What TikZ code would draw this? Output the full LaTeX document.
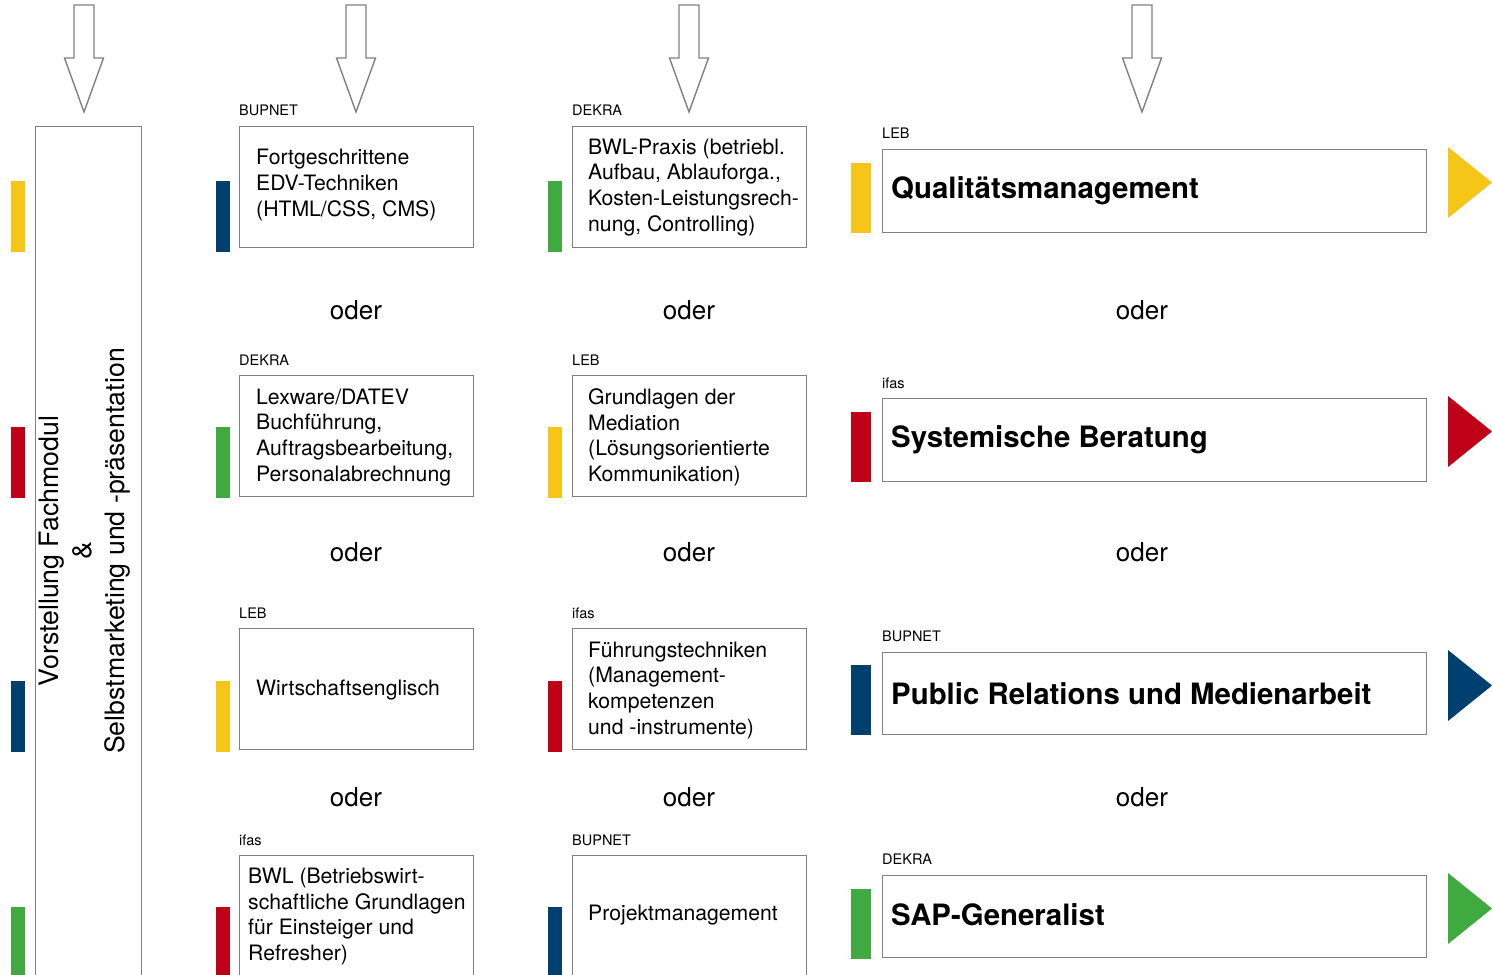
\documentclass[tikz,border=0pt]{standalone}
\usepackage{fontspec}
\setmainfont{TeX Gyre Heros}
\definecolor{cyel}{HTML}{F5C518}
\definecolor{cred}{HTML}{C00017}
\definecolor{cblu}{HTML}{00406F}
\definecolor{cgrn}{HTML}{3FAA3F}
\definecolor{cgry}{HTML}{808080}
\tikzset{
  box/.style={draw=cgry, line width=1.4pt, anchor=north west, inner sep=0pt, fill=white},
  bar/.style={draw=none, anchor=north west, inner sep=0pt, minimum width=14, minimum height=71},
  bigbar/.style={draw=none, anchor=north west, inner sep=0pt, minimum width=20, minimum height=70},
  txt/.style={anchor=west, align=left, inner sep=0pt, font=\fontsize{21.2}{25.7}\selectfont},
  bigtxt/.style={anchor=west, inner sep=0pt, font=\fontsize{29.4}{34}\selectfont\bfseries},
  lbl/.style={anchor=base west, inner sep=0pt, font=\fontsize{14.5}{17}\selectfont},
  oder/.style={inner sep=0pt, font=\fontsize{26}{30}\selectfont},
  harrow/.style={draw=cgry, line width=1.4pt, fill=white, line join=miter},
}
\begin{document}
\begin{tikzpicture}[x=1pt,y=-1pt]
\useasboundingbox (0,0) rectangle (1492,975);
\clip (0,0) rectangle (1492,975);
\fill[white] (0,0) rectangle (1492,975);

% hollow down arrows
\foreach \cx/\nm in {84/a1,356/a2,689/a3,1142/a4}{
  \draw[harrow] (\cx-10,5) -- (\cx+10,5) -- (\cx+10,58) -- (\cx+19.5,58) -- (\cx,112) -- (\cx-19.5,58) -- (\cx-10,58) -- cycle;
}

% left tall box
\node[box, minimum width=106, minimum height=870] (left) at (35,126) {};
\node[rotate=90, align=center, inner sep=0pt, font=\fontsize{26.7}{33}\selectfont] (lefttxt) at (85,551)
  {Vorstellung Fachmodul\\\&\\Selbstmarketing und -präsentation};

% left bars
\node[bar, fill=cyel] (lb1) at (11,181) {};
\node[bar, fill=cred] (lb2) at (11,427) {};
\node[bar, fill=cblu] (lb3) at (11,681) {};
\node[bar, fill=cgrn] (lb4) at (11,907) {};

% column 2
\node[box, minimum width=234, minimum height=121] (b21) at (239,126) {};
\node[box, minimum width=234, minimum height=121] (b22) at (239,375) {};
\node[box, minimum width=234, minimum height=121] (b23) at (239,628) {};
\node[box, minimum width=234, minimum height=130] (b24) at (239,855) {};
\node[bar, fill=cblu] (p21) at (216,181) {};
\node[bar, fill=cgrn] (p22) at (216,427) {};
\node[bar, fill=cyel] (p23) at (216,681) {};
\node[bar, fill=cred] (p24) at (216,907) {};
\node[lbl] (l21) at (239,115) {BUPNET};
\node[lbl] (l22) at (239,365) {DEKRA};
\node[lbl] (l23) at (239,618) {LEB};
\node[lbl] (l24) at (239,845) {ifas};
\node[txt] (t21) at ([xshift=17,yshift=2]b21.west) {Fortgeschrittene\\EDV-Techniken\\(HTML/CSS, CMS)};
\node[txt] (t22) at ([xshift=17,yshift=-1]b22.west) {Lexware/DATEV\\Buchführung,\\Auftragsbearbeitung,\\Personalabrechnung};
\node[txt] (t23) at ([xshift=17,yshift=-1]b23.west) {Wirtschaftsenglisch};
\node[txt] (t24) at (248,916.5) {BWL (Betriebswirt-\\schaftliche Grundlagen\\für Einsteiger und\\Refresher)};

% column 3
\node[box, minimum width=234, minimum height=121] (b31) at (572,126) {};
\node[box, minimum width=234, minimum height=121] (b32) at (572,375) {};
\node[box, minimum width=234, minimum height=121] (b33) at (572,628) {};
\node[box, minimum width=234, minimum height=130] (b34) at (572,855) {};
\node[bar, fill=cgrn] (p31) at (548,181) {};
\node[bar, fill=cyel] (p32) at (548,427) {};
\node[bar, fill=cred] (p33) at (548,681) {};
\node[bar, fill=cblu] (p34) at (548,907) {};
\node[lbl] (l31) at (572,115) {DEKRA};
\node[lbl] (l32) at (572,365) {LEB};
\node[lbl] (l33) at (572,618) {ifas};
\node[lbl] (l34) at (572,845) {BUPNET};
\node[txt] (t31) at ([xshift=16]b31.west) {BWL-Praxis (betriebl.\\Aufbau, Ablauforga.,\\Kosten-Leistungsrech-\\nung, Controlling)};
\node[txt] (t32) at ([xshift=16,yshift=-1]b32.west) {Grundlagen der\\Mediation\\(Lösungsorientierte\\Kommunikation)};
\node[txt] (t33) at ([xshift=16,yshift=-1]b33.west) {Führungstechniken\\(Management-\\kompetenzen\\und -instrumente)};
\node[txt] (t34) at (588,915.5) {Projektmanagement};

% column 4
\node[box, minimum width=544, minimum height=83] (b41) at (882,149) {};
\node[box, minimum width=544, minimum height=83] (b42) at (882,398) {};
\node[box, minimum width=544, minimum height=82] (b43) at (882,652) {};
\node[box, minimum width=544, minimum height=82] (b44) at (882,875) {};
\node[bigbar, fill=cyel] (p41) at (851,163) {};
\node[bigbar, fill=cred] (p42) at (851,412) {};
\node[bigbar, fill=cblu] (p43) at (851,665) {};
\node[bigbar, fill=cgrn] (p44) at (851,889) {};
\node[lbl] (l41) at (882,138) {LEB};
\node[lbl] (l42) at (882,388) {ifas};
\node[lbl] (l43) at (882,641) {BUPNET};
\node[lbl] (l44) at (882,864) {DEKRA};
\node[bigtxt] (t41) at ([xshift=9,yshift=0.5]b41.west) {Qualitätsmanagement};
\node[bigtxt] (t42) at ([xshift=9,yshift=0.5]b42.west) {Systemische Beratung};
\node[bigtxt] (t43) at ([xshift=9,yshift=0.5]b43.west) {Public Relations und Medienarbeit};
\node[bigtxt] (t44) at ([xshift=9,yshift=1.5]b44.west) {SAP-Generalist};

% triangles
\fill[cyel] (1448,147) -- (1492,182.5) -- (1448,218) -- cycle;
\fill[cred] (1448,396) -- (1492,431.5) -- (1448,467) -- cycle;
\fill[cblu] (1448,650) -- (1492,685.5) -- (1448,721) -- cycle;
\fill[cgrn] (1448,873) -- (1492,908.5) -- (1448,944) -- cycle;

% oder
\foreach \cx in {356,689,1142}{
  \node[oder] at (\cx,310) {oder};
  \node[oder] at (\cx,552) {oder};
  \node[oder] at (\cx,797) {oder};
}
\end{tikzpicture}
\end{document}
